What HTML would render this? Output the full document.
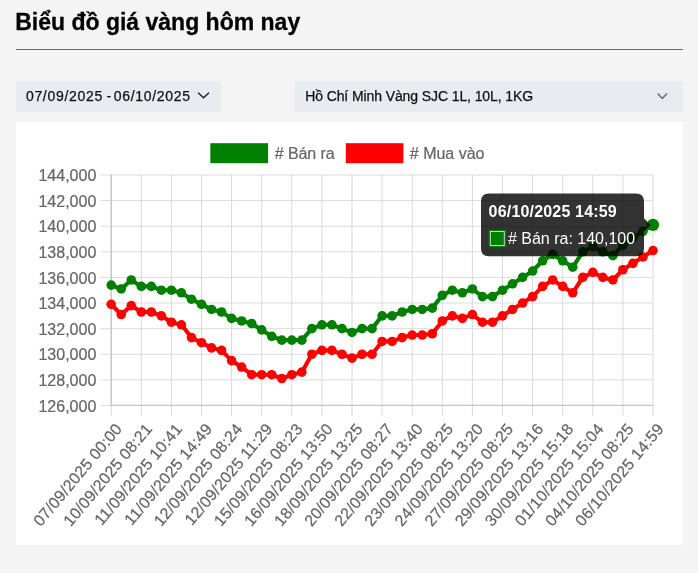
<!DOCTYPE html>
<html lang="vi"><head><meta charset="utf-8"><title>Biểu đồ giá vàng hôm nay</title>
<style>
html,body{margin:0;padding:0}
body{width:698px;height:573px;background:#f4f4f4;position:relative;overflow:hidden;font-family:"Liberation Sans",sans-serif;color:#111}
.title{position:absolute;left:15.2px;top:6.4px;font-size:23px;font-weight:bold;line-height:32px;white-space:nowrap;color:#000;-webkit-text-stroke:0.3px #000}
.hr{position:absolute;left:15.5px;top:48.6px;width:667px;height:1.4px;background:#6b6b6b}
.box{position:absolute;top:81px;height:30.5px;background:#e9ebf0;font-size:14px;line-height:30.5px;white-space:nowrap;color:#111;-webkit-text-stroke:0.25px #111}
.date{left:15.5px;width:205px}
.date span{position:absolute;letter-spacing:0.7px}
.sel{left:295px;width:387.5px}
.sel span{position:absolute;left:10.2px;letter-spacing:-0.1px}
.card{position:absolute;left:15.5px;top:122.2px;width:667px;height:423px;background:#fff}
#wrap{position:absolute;left:0;top:0;width:698px;height:573px;will-change:transform;transform:translateZ(0)}
</style></head><body><div id="wrap">
<div class="title">Biểu đồ giá vàng hôm nay</div>
<div class="hr"></div>
<div class="box date"><span style="left:10.4px">07/09/2025</span><span style="left:91px;letter-spacing:0">-</span><span style="left:98.2px">06/10/2025</span>
<svg style="position:absolute;left:181.2px;top:10px" width="14" height="10" viewBox="0 0 14 10"><path d="M1.1 1.7 L6.55 6.8 L12 1.7" fill="none" stroke="#1a1a1a" stroke-width="1.3"/></svg></div>
<div class="box sel"><span>Hồ Chí Minh Vàng SJC 1L, 10L, 1KG</span>
<svg style="position:absolute;left:360.6px;top:11px" width="14" height="10" viewBox="0 0 14 10"><path d="M1.6 1.6 L6.3 6.6 L11 1.6" fill="none" stroke="#666" stroke-width="1.4"/></svg></div>
<div class="card"></div>
<svg width="698" height="573" viewBox="0 0 698 573" style="position:absolute;left:0;top:0" font-family="Liberation Sans, sans-serif">
<line x1="100.5" x2="653.00" y1="175.00" y2="175.00" stroke="#dcdcdc" stroke-width="1.0"/>
<text x="96.3" y="181.20" text-anchor="end" font-size="16" fill="#666666" stroke="#666666" stroke-width="0.22">144,000</text>
<line x1="100.5" x2="653.00" y1="200.60" y2="200.60" stroke="#dcdcdc" stroke-width="1.0"/>
<text x="96.3" y="206.80" text-anchor="end" font-size="16" fill="#666666" stroke="#666666" stroke-width="0.22">142,000</text>
<line x1="100.5" x2="653.00" y1="226.21" y2="226.21" stroke="#dcdcdc" stroke-width="1.0"/>
<text x="96.3" y="232.41" text-anchor="end" font-size="16" fill="#666666" stroke="#666666" stroke-width="0.22">140,000</text>
<line x1="100.5" x2="653.00" y1="251.81" y2="251.81" stroke="#dcdcdc" stroke-width="1.0"/>
<text x="96.3" y="258.01" text-anchor="end" font-size="16" fill="#666666" stroke="#666666" stroke-width="0.22">138,000</text>
<line x1="100.5" x2="653.00" y1="277.42" y2="277.42" stroke="#dcdcdc" stroke-width="1.0"/>
<text x="96.3" y="283.62" text-anchor="end" font-size="16" fill="#666666" stroke="#666666" stroke-width="0.22">136,000</text>
<line x1="100.5" x2="653.00" y1="303.02" y2="303.02" stroke="#dcdcdc" stroke-width="1.0"/>
<text x="96.3" y="309.22" text-anchor="end" font-size="16" fill="#666666" stroke="#666666" stroke-width="0.22">134,000</text>
<line x1="100.5" x2="653.00" y1="328.63" y2="328.63" stroke="#dcdcdc" stroke-width="1.0"/>
<text x="96.3" y="334.83" text-anchor="end" font-size="16" fill="#666666" stroke="#666666" stroke-width="0.22">132,000</text>
<line x1="100.5" x2="653.00" y1="354.24" y2="354.24" stroke="#dcdcdc" stroke-width="1.0"/>
<text x="96.3" y="360.44" text-anchor="end" font-size="16" fill="#666666" stroke="#666666" stroke-width="0.22">130,000</text>
<line x1="100.5" x2="653.00" y1="379.84" y2="379.84" stroke="#dcdcdc" stroke-width="1.0"/>
<text x="96.3" y="386.04" text-anchor="end" font-size="16" fill="#666666" stroke="#666666" stroke-width="0.22">128,000</text>
<line x1="100.5" x2="653.00" y1="405.44" y2="405.44" stroke="#dcdcdc" stroke-width="1.0"/>
<text x="96.3" y="411.64" text-anchor="end" font-size="16" fill="#666666" stroke="#666666" stroke-width="0.22">126,000</text>
<line x1="111.20" x2="111.20" y1="174.50" y2="416.12" stroke="#d8d8d8" stroke-width="0.95"/>
<text transform="translate(118.60,425.75) rotate(-50)" text-anchor="end" font-size="16" letter-spacing="0.2" fill="#666666" stroke="#666666" stroke-width="0.22" dy="5.6">07/09/2025 00:00</text>
<line x1="141.30" x2="141.30" y1="174.50" y2="416.12" stroke="#d8d8d8" stroke-width="0.95"/>
<text transform="translate(148.70,425.75) rotate(-50)" text-anchor="end" font-size="16" letter-spacing="0.2" fill="#666666" stroke="#666666" stroke-width="0.22" dy="5.6">10/09/2025 08:21</text>
<line x1="171.40" x2="171.40" y1="174.50" y2="416.12" stroke="#d8d8d8" stroke-width="0.95"/>
<text transform="translate(178.80,425.75) rotate(-50)" text-anchor="end" font-size="16" letter-spacing="0.2" fill="#666666" stroke="#666666" stroke-width="0.22" dy="5.6">11/09/2025 10:41</text>
<line x1="201.50" x2="201.50" y1="174.50" y2="416.12" stroke="#d8d8d8" stroke-width="0.95"/>
<text transform="translate(208.90,425.75) rotate(-50)" text-anchor="end" font-size="16" letter-spacing="0.2" fill="#666666" stroke="#666666" stroke-width="0.22" dy="5.6">11/09/2025 14:49</text>
<line x1="231.60" x2="231.60" y1="174.50" y2="416.12" stroke="#d8d8d8" stroke-width="0.95"/>
<text transform="translate(239.00,425.75) rotate(-50)" text-anchor="end" font-size="16" letter-spacing="0.2" fill="#666666" stroke="#666666" stroke-width="0.22" dy="5.6">12/09/2025 08:24</text>
<line x1="261.70" x2="261.70" y1="174.50" y2="416.12" stroke="#d8d8d8" stroke-width="0.95"/>
<text transform="translate(269.10,425.75) rotate(-50)" text-anchor="end" font-size="16" letter-spacing="0.2" fill="#666666" stroke="#666666" stroke-width="0.22" dy="5.6">12/09/2025 11:29</text>
<line x1="291.80" x2="291.80" y1="174.50" y2="416.12" stroke="#d8d8d8" stroke-width="0.95"/>
<text transform="translate(299.20,425.75) rotate(-50)" text-anchor="end" font-size="16" letter-spacing="0.2" fill="#666666" stroke="#666666" stroke-width="0.22" dy="5.6">15/09/2025 08:23</text>
<line x1="321.90" x2="321.90" y1="174.50" y2="416.12" stroke="#d8d8d8" stroke-width="0.95"/>
<text transform="translate(329.30,425.75) rotate(-50)" text-anchor="end" font-size="16" letter-spacing="0.2" fill="#666666" stroke="#666666" stroke-width="0.22" dy="5.6">16/09/2025 13:50</text>
<line x1="352.00" x2="352.00" y1="174.50" y2="416.12" stroke="#d8d8d8" stroke-width="0.95"/>
<text transform="translate(359.40,425.75) rotate(-50)" text-anchor="end" font-size="16" letter-spacing="0.2" fill="#666666" stroke="#666666" stroke-width="0.22" dy="5.6">18/09/2025 13:25</text>
<line x1="382.10" x2="382.10" y1="174.50" y2="416.12" stroke="#d8d8d8" stroke-width="0.95"/>
<text transform="translate(389.50,425.75) rotate(-50)" text-anchor="end" font-size="16" letter-spacing="0.2" fill="#666666" stroke="#666666" stroke-width="0.22" dy="5.6">20/09/2025 08:27</text>
<line x1="412.20" x2="412.20" y1="174.50" y2="416.12" stroke="#d8d8d8" stroke-width="0.95"/>
<text transform="translate(419.60,425.75) rotate(-50)" text-anchor="end" font-size="16" letter-spacing="0.2" fill="#666666" stroke="#666666" stroke-width="0.22" dy="5.6">22/09/2025 13:40</text>
<line x1="442.30" x2="442.30" y1="174.50" y2="416.12" stroke="#d8d8d8" stroke-width="0.95"/>
<text transform="translate(449.70,425.75) rotate(-50)" text-anchor="end" font-size="16" letter-spacing="0.2" fill="#666666" stroke="#666666" stroke-width="0.22" dy="5.6">23/09/2025 08:25</text>
<line x1="472.40" x2="472.40" y1="174.50" y2="416.12" stroke="#d8d8d8" stroke-width="0.95"/>
<text transform="translate(479.80,425.75) rotate(-50)" text-anchor="end" font-size="16" letter-spacing="0.2" fill="#666666" stroke="#666666" stroke-width="0.22" dy="5.6">24/09/2025 13:20</text>
<line x1="502.50" x2="502.50" y1="174.50" y2="416.12" stroke="#d8d8d8" stroke-width="0.95"/>
<text transform="translate(509.90,425.75) rotate(-50)" text-anchor="end" font-size="16" letter-spacing="0.2" fill="#666666" stroke="#666666" stroke-width="0.22" dy="5.6">27/09/2025 08:25</text>
<line x1="532.60" x2="532.60" y1="174.50" y2="416.12" stroke="#d8d8d8" stroke-width="0.95"/>
<text transform="translate(540.00,425.75) rotate(-50)" text-anchor="end" font-size="16" letter-spacing="0.2" fill="#666666" stroke="#666666" stroke-width="0.22" dy="5.6">29/09/2025 13:16</text>
<line x1="562.70" x2="562.70" y1="174.50" y2="416.12" stroke="#d8d8d8" stroke-width="0.95"/>
<text transform="translate(570.10,425.75) rotate(-50)" text-anchor="end" font-size="16" letter-spacing="0.2" fill="#666666" stroke="#666666" stroke-width="0.22" dy="5.6">30/09/2025 15:18</text>
<line x1="592.80" x2="592.80" y1="174.50" y2="416.12" stroke="#d8d8d8" stroke-width="0.95"/>
<text transform="translate(600.20,425.75) rotate(-50)" text-anchor="end" font-size="16" letter-spacing="0.2" fill="#666666" stroke="#666666" stroke-width="0.22" dy="5.6">01/10/2025 15:04</text>
<line x1="622.90" x2="622.90" y1="174.50" y2="416.12" stroke="#d8d8d8" stroke-width="0.95"/>
<text transform="translate(630.30,425.75) rotate(-50)" text-anchor="end" font-size="16" letter-spacing="0.2" fill="#666666" stroke="#666666" stroke-width="0.22" dy="5.6">04/10/2025 08:25</text>
<line x1="653.00" x2="653.00" y1="174.50" y2="416.12" stroke="#d8d8d8" stroke-width="0.95"/>
<text transform="translate(660.40,425.75) rotate(-50)" text-anchor="end" font-size="16" letter-spacing="0.2" fill="#666666" stroke="#666666" stroke-width="0.22" dy="5.6">06/10/2025 14:59</text>
<line x1="111.20" x2="111.20" y1="174.50" y2="406.05" stroke="#c4c4c4" stroke-width="1.3"/>
<line x1="110.60" x2="653.50" y1="405.44" y2="405.44" stroke="#c6c6c6" stroke-width="1.2"/>
<rect x="212.3" y="145.2" width="53.8" height="16" fill="#008000" stroke="#008000" stroke-width="4"/>
<text x="274.8" y="158.9" font-size="16" letter-spacing="-0.1" fill="#666666" stroke="#666666" stroke-width="0.22"># Bán ra</text>
<rect x="347.8" y="145.2" width="53.6" height="16" fill="#ff0000" stroke="#ff0000" stroke-width="4"/>
<text x="409.8" y="158.9" font-size="16" fill="#666666" stroke="#666666" stroke-width="0.22"># Mua vào</text>
<polyline points="111.20,304.31 121.23,314.55 131.27,305.59 141.30,311.99 151.33,311.99 161.37,315.83 171.40,322.23 181.43,324.79 191.47,337.59 201.50,342.71 211.53,347.83 221.57,350.39 231.60,360.64 241.63,367.04 251.67,374.72 261.70,374.72 271.73,374.72 281.77,378.56 291.80,374.72 301.83,372.16 311.87,354.24 321.90,350.39 331.93,350.39 341.97,354.24 352.00,358.08 362.03,354.24 372.07,354.24 382.10,341.43 392.13,341.43 402.17,337.59 412.20,335.03 422.23,335.03 432.27,333.75 442.30,320.95 452.33,315.83 462.37,318.39 472.40,314.55 482.43,322.23 492.47,322.23 502.50,315.83 512.53,309.43 522.57,303.02 532.60,296.62 542.63,286.38 552.67,279.98 562.70,286.38 572.73,292.78 582.77,277.42 592.80,272.30 602.83,277.42 612.87,279.98 622.90,269.74 632.93,263.34 642.97,256.94 653.00,250.53" fill="none" stroke="#ff0000" stroke-width="4.15" stroke-linejoin="round" stroke-linecap="butt"/>
<circle cx="111.20" cy="304.31" r="4.8" fill="#ff0000"/>
<circle cx="121.23" cy="314.55" r="4.8" fill="#ff0000"/>
<circle cx="131.27" cy="305.59" r="4.8" fill="#ff0000"/>
<circle cx="141.30" cy="311.99" r="4.8" fill="#ff0000"/>
<circle cx="151.33" cy="311.99" r="4.8" fill="#ff0000"/>
<circle cx="161.37" cy="315.83" r="4.8" fill="#ff0000"/>
<circle cx="171.40" cy="322.23" r="4.8" fill="#ff0000"/>
<circle cx="181.43" cy="324.79" r="4.8" fill="#ff0000"/>
<circle cx="191.47" cy="337.59" r="4.8" fill="#ff0000"/>
<circle cx="201.50" cy="342.71" r="4.8" fill="#ff0000"/>
<circle cx="211.53" cy="347.83" r="4.8" fill="#ff0000"/>
<circle cx="221.57" cy="350.39" r="4.8" fill="#ff0000"/>
<circle cx="231.60" cy="360.64" r="4.8" fill="#ff0000"/>
<circle cx="241.63" cy="367.04" r="4.8" fill="#ff0000"/>
<circle cx="251.67" cy="374.72" r="4.8" fill="#ff0000"/>
<circle cx="261.70" cy="374.72" r="4.8" fill="#ff0000"/>
<circle cx="271.73" cy="374.72" r="4.8" fill="#ff0000"/>
<circle cx="281.77" cy="378.56" r="4.8" fill="#ff0000"/>
<circle cx="291.80" cy="374.72" r="4.8" fill="#ff0000"/>
<circle cx="301.83" cy="372.16" r="4.8" fill="#ff0000"/>
<circle cx="311.87" cy="354.24" r="4.8" fill="#ff0000"/>
<circle cx="321.90" cy="350.39" r="4.8" fill="#ff0000"/>
<circle cx="331.93" cy="350.39" r="4.8" fill="#ff0000"/>
<circle cx="341.97" cy="354.24" r="4.8" fill="#ff0000"/>
<circle cx="352.00" cy="358.08" r="4.8" fill="#ff0000"/>
<circle cx="362.03" cy="354.24" r="4.8" fill="#ff0000"/>
<circle cx="372.07" cy="354.24" r="4.8" fill="#ff0000"/>
<circle cx="382.10" cy="341.43" r="4.8" fill="#ff0000"/>
<circle cx="392.13" cy="341.43" r="4.8" fill="#ff0000"/>
<circle cx="402.17" cy="337.59" r="4.8" fill="#ff0000"/>
<circle cx="412.20" cy="335.03" r="4.8" fill="#ff0000"/>
<circle cx="422.23" cy="335.03" r="4.8" fill="#ff0000"/>
<circle cx="432.27" cy="333.75" r="4.8" fill="#ff0000"/>
<circle cx="442.30" cy="320.95" r="4.8" fill="#ff0000"/>
<circle cx="452.33" cy="315.83" r="4.8" fill="#ff0000"/>
<circle cx="462.37" cy="318.39" r="4.8" fill="#ff0000"/>
<circle cx="472.40" cy="314.55" r="4.8" fill="#ff0000"/>
<circle cx="482.43" cy="322.23" r="4.8" fill="#ff0000"/>
<circle cx="492.47" cy="322.23" r="4.8" fill="#ff0000"/>
<circle cx="502.50" cy="315.83" r="4.8" fill="#ff0000"/>
<circle cx="512.53" cy="309.43" r="4.8" fill="#ff0000"/>
<circle cx="522.57" cy="303.02" r="4.8" fill="#ff0000"/>
<circle cx="532.60" cy="296.62" r="4.8" fill="#ff0000"/>
<circle cx="542.63" cy="286.38" r="4.8" fill="#ff0000"/>
<circle cx="552.67" cy="279.98" r="4.8" fill="#ff0000"/>
<circle cx="562.70" cy="286.38" r="4.8" fill="#ff0000"/>
<circle cx="572.73" cy="292.78" r="4.8" fill="#ff0000"/>
<circle cx="582.77" cy="277.42" r="4.8" fill="#ff0000"/>
<circle cx="592.80" cy="272.30" r="4.8" fill="#ff0000"/>
<circle cx="602.83" cy="277.42" r="4.8" fill="#ff0000"/>
<circle cx="612.87" cy="279.98" r="4.8" fill="#ff0000"/>
<circle cx="622.90" cy="269.74" r="4.8" fill="#ff0000"/>
<circle cx="632.93" cy="263.34" r="4.8" fill="#ff0000"/>
<circle cx="642.97" cy="256.94" r="4.8" fill="#ff0000"/>
<circle cx="653.00" cy="250.53" r="4.8" fill="#ff0000"/>
<polyline points="111.20,285.10 121.23,288.94 131.27,279.98 141.30,286.38 151.33,286.38 161.37,290.22 171.40,290.22 181.43,292.78 191.47,299.18 201.50,304.31 211.53,309.43 221.57,311.99 231.60,318.39 241.63,320.95 251.67,323.51 261.70,329.91 271.73,336.31 281.77,340.15 291.80,340.15 301.83,340.15 311.87,328.63 321.90,324.79 331.93,324.79 341.97,328.63 352.00,332.47 362.03,328.63 372.07,328.63 382.10,315.83 392.13,315.83 402.17,311.99 412.20,309.43 422.23,309.43 432.27,308.15 442.30,295.34 452.33,290.22 462.37,292.78 472.40,288.94 482.43,296.62 492.47,296.62 502.50,290.22 512.53,283.82 522.57,277.42 532.60,271.02 542.63,260.78 552.67,254.38 562.70,260.78 572.73,267.18 582.77,251.81 592.80,246.69 602.83,251.81 612.87,255.66 622.90,245.41 632.93,237.73 642.97,231.33 653.00,224.93" fill="none" stroke="#008000" stroke-width="4.15" stroke-linejoin="round" stroke-linecap="butt"/>
<circle cx="111.20" cy="285.10" r="4.8" fill="#008000"/>
<circle cx="121.23" cy="288.94" r="4.8" fill="#008000"/>
<circle cx="131.27" cy="279.98" r="4.8" fill="#008000"/>
<circle cx="141.30" cy="286.38" r="4.8" fill="#008000"/>
<circle cx="151.33" cy="286.38" r="4.8" fill="#008000"/>
<circle cx="161.37" cy="290.22" r="4.8" fill="#008000"/>
<circle cx="171.40" cy="290.22" r="4.8" fill="#008000"/>
<circle cx="181.43" cy="292.78" r="4.8" fill="#008000"/>
<circle cx="191.47" cy="299.18" r="4.8" fill="#008000"/>
<circle cx="201.50" cy="304.31" r="4.8" fill="#008000"/>
<circle cx="211.53" cy="309.43" r="4.8" fill="#008000"/>
<circle cx="221.57" cy="311.99" r="4.8" fill="#008000"/>
<circle cx="231.60" cy="318.39" r="4.8" fill="#008000"/>
<circle cx="241.63" cy="320.95" r="4.8" fill="#008000"/>
<circle cx="251.67" cy="323.51" r="4.8" fill="#008000"/>
<circle cx="261.70" cy="329.91" r="4.8" fill="#008000"/>
<circle cx="271.73" cy="336.31" r="4.8" fill="#008000"/>
<circle cx="281.77" cy="340.15" r="4.8" fill="#008000"/>
<circle cx="291.80" cy="340.15" r="4.8" fill="#008000"/>
<circle cx="301.83" cy="340.15" r="4.8" fill="#008000"/>
<circle cx="311.87" cy="328.63" r="4.8" fill="#008000"/>
<circle cx="321.90" cy="324.79" r="4.8" fill="#008000"/>
<circle cx="331.93" cy="324.79" r="4.8" fill="#008000"/>
<circle cx="341.97" cy="328.63" r="4.8" fill="#008000"/>
<circle cx="352.00" cy="332.47" r="4.8" fill="#008000"/>
<circle cx="362.03" cy="328.63" r="4.8" fill="#008000"/>
<circle cx="372.07" cy="328.63" r="4.8" fill="#008000"/>
<circle cx="382.10" cy="315.83" r="4.8" fill="#008000"/>
<circle cx="392.13" cy="315.83" r="4.8" fill="#008000"/>
<circle cx="402.17" cy="311.99" r="4.8" fill="#008000"/>
<circle cx="412.20" cy="309.43" r="4.8" fill="#008000"/>
<circle cx="422.23" cy="309.43" r="4.8" fill="#008000"/>
<circle cx="432.27" cy="308.15" r="4.8" fill="#008000"/>
<circle cx="442.30" cy="295.34" r="4.8" fill="#008000"/>
<circle cx="452.33" cy="290.22" r="4.8" fill="#008000"/>
<circle cx="462.37" cy="292.78" r="4.8" fill="#008000"/>
<circle cx="472.40" cy="288.94" r="4.8" fill="#008000"/>
<circle cx="482.43" cy="296.62" r="4.8" fill="#008000"/>
<circle cx="492.47" cy="296.62" r="4.8" fill="#008000"/>
<circle cx="502.50" cy="290.22" r="4.8" fill="#008000"/>
<circle cx="512.53" cy="283.82" r="4.8" fill="#008000"/>
<circle cx="522.57" cy="277.42" r="4.8" fill="#008000"/>
<circle cx="532.60" cy="271.02" r="4.8" fill="#008000"/>
<circle cx="542.63" cy="260.78" r="4.8" fill="#008000"/>
<circle cx="552.67" cy="254.38" r="4.8" fill="#008000"/>
<circle cx="562.70" cy="260.78" r="4.8" fill="#008000"/>
<circle cx="572.73" cy="267.18" r="4.8" fill="#008000"/>
<circle cx="582.77" cy="251.81" r="4.8" fill="#008000"/>
<circle cx="592.80" cy="246.69" r="4.8" fill="#008000"/>
<circle cx="602.83" cy="251.81" r="4.8" fill="#008000"/>
<circle cx="612.87" cy="255.66" r="4.8" fill="#008000"/>
<circle cx="622.90" cy="245.41" r="4.8" fill="#008000"/>
<circle cx="632.93" cy="237.73" r="4.8" fill="#008000"/>
<circle cx="642.97" cy="231.33" r="4.8" fill="#008000"/>
<circle cx="653.00" cy="224.93" r="6.1" fill="#008000"/>
<path d="M489.0,193.6 H636.0 Q644.0,193.6 644.0,201.6 V218.25975000000003 L650.67,224.92975 L644.0,231.59975 V248.2 Q644.0,256.2 636.0,256.2 H489.0 Q481.0,256.2 481.0,248.2 V201.6 Q481.0,193.6 489.0,193.6 Z" fill="rgba(0,0,0,0.8)"/>
<text x="488.6" y="216.5" font-size="16" font-weight="bold" letter-spacing="0.18" fill="#fff">06/10/2025 14:59</text>
<rect x="489.25" y="230.45" width="16" height="16" fill="#fff" stroke="#008000" stroke-width="1.33"/>
<rect x="490.65" y="231.85" width="13.2" height="13.2" fill="#008000"/>
<text x="507.9" y="244" font-size="16" fill="#fff"># Bán ra: 140,100</text>
</svg>
</div></body></html>
